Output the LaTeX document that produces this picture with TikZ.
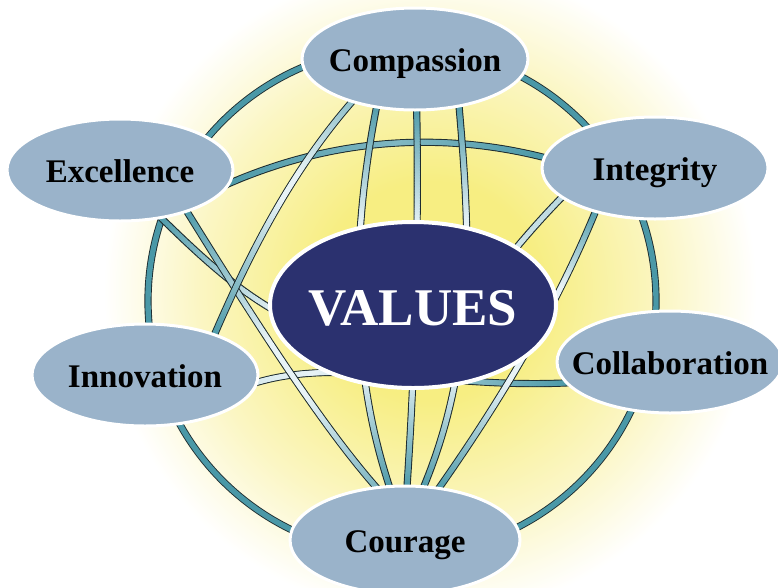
\documentclass[tikz,border=0pt]{standalone}
\usepackage{fontspec}
\setmainfont{Liberation Serif}
\usetikzlibrary{shapes.geometric,decorations.markings,backgrounds}

\definecolor{tagfill}{RGB}{154,179,202}
\definecolor{corefill}{RGB}{43,49,111}
\definecolor{bandteal}{RGB}{74,152,167}
\definecolor{bandpale}{RGB}{232,243,246}
\definecolor{bandline}{RGB}{30,45,48}
\definecolor{glowin}{RGB}{247,238,130}
\definecolor{glowmid}{RGB}{251,246,195}

\pgfdeclareradialshading{glow}{\pgfpointorigin}{color(0bp)=(glowin); color(8bp)=(glowin); color(17bp)=(glowmid); color(24bp)=(white); color(50bp)=(white)}

\newcommand{\vlabel}[1]{\makebox[0pt]{#1}}
\newcommand{\bandtint}{%
  \pgfmathsetmacro\bandpos{0.004*(\pgfkeysvalueof{/pgf/decoration/mark info/sequence number}-1)}%
  \pgfmathsetmacro\bandlit{\bandpos<\tintM ? \tintA+(\tintP-\tintA)*\bandpos/\tintM : \tintP+(\tintB-\tintP)*(\bandpos-\tintM)/(1-\tintM)}%
  \pgfmathtruncatemacro\bandmix{100*min(1,max(0,\bandlit))}%
  \fill[bandpale!\bandmix!bandteal] (0,0) circle (2.7pt);}

\tikzset{
  vtag/.style={ellipse, fill=tagfill, draw=white, line width=3pt, minimum width=226pt, minimum height=102pt,
    inner sep=0pt, outer sep=-5pt, text height=24pt, text depth=0pt, font=\bfseries\fontsize{33}{38}\selectfont},
  core/.style={vtag, fill=corefill, line width=4pt, minimum width=286pt, minimum height=166pt,
    text=white, text height=40pt, font=\bfseries\fontsize{53}{62}\selectfont},
  ring/.style={draw=bandline, double=bandteal, line width=0.9pt, double distance=5.4pt},
  band/.style={draw=bandline, line width=7.2pt,
    postaction={decorate, decoration={markings, mark=between positions 0 and 1 step 0.004 with {\bandtint}}}},
  tint/.code n args={4}{\def\tintA{#1}\def\tintM{#2}\def\tintP{#3}\def\tintB{#4}}
}

\begin{document}
\begin{tikzpicture}[x=1pt, y=-1pt]
  \useasboundingbox (0,0) rectangle (778,587);

  %%%%% VALUES %%%%%
  \node[vtag] (comp) at (415,59)  {\vlabel{Compassion}};
  \node[vtag] (exc)  at (120,170) {\vlabel{Excellence}};
  \node[vtag] (int)  at (655,168) {\vlabel{Integrity}};
  \node[vtag] (coll) at (670,362) {\vlabel{Collaboration}};
  \node[vtag] (inn)  at (145,375) {\vlabel{Innovation}};
  \node[vtag, minimum width=230pt, minimum height=108pt] (cour) at (405,540) {\vlabel{Courage}};
  \node[core] (val)  at (413,305) {\vlabel{VALUES}};

  %%%%% GLOBE %%%%%
  \begin{pgfonlayer}{background}
    \coordinate (glowc) at (430,290);
    \coordinate (globe) at (402,301);
    \shade[shading=glow] (glowc) circle (340);

    \draw[ring] (globe) circle (254);
    % latitudes
    \draw[band, tint={0}{0.55}{0.35}{0}] (exc.-10) .. controls (324,140) and (436,129) .. (int.175);
    \draw[band, tint={0.9}{0.2}{1}{0}] (inn.-5) .. controls (340,355) and (440,390) .. (coll.192);
    \draw[band, tint={0}{0.4}{1.3}{0.7}] (exc.310) .. controls (220,275) and (290,345) .. (400,345)
      .. controls (460,345) and (472,288) .. (int.196);
    \draw[band, tint={0}{0.55}{1.2}{0.3}] (exc.330) .. controls (245,305) and (320,425) .. (cour.117);
    % meridians
    \draw[band, tint={0}{0.5}{1.6}{0}] (comp.229) .. controls (352,230) and (348,365) .. (cour.106);
    \draw[band, tint={0}{0.5}{1.6}{0}] (comp.272) .. controls (419,230) and (415,370) .. (cour.88);
    \draw[band, tint={0}{0.5}{1.6}{0}] (comp.316) .. controls (470,230) and (478,360) .. (cour.71);
    \draw[band, tint={0}{0.4}{1.5}{0}] (int.214) .. controls (556,309) and (499,403) .. (cour.57);
    \draw[band, tint={0.4}{0.4}{1.1}{0}] (comp.213) .. controls (293,168) and (250,252) .. (inn.28);
  \end{pgfonlayer}
\end{tikzpicture}
\end{document}
